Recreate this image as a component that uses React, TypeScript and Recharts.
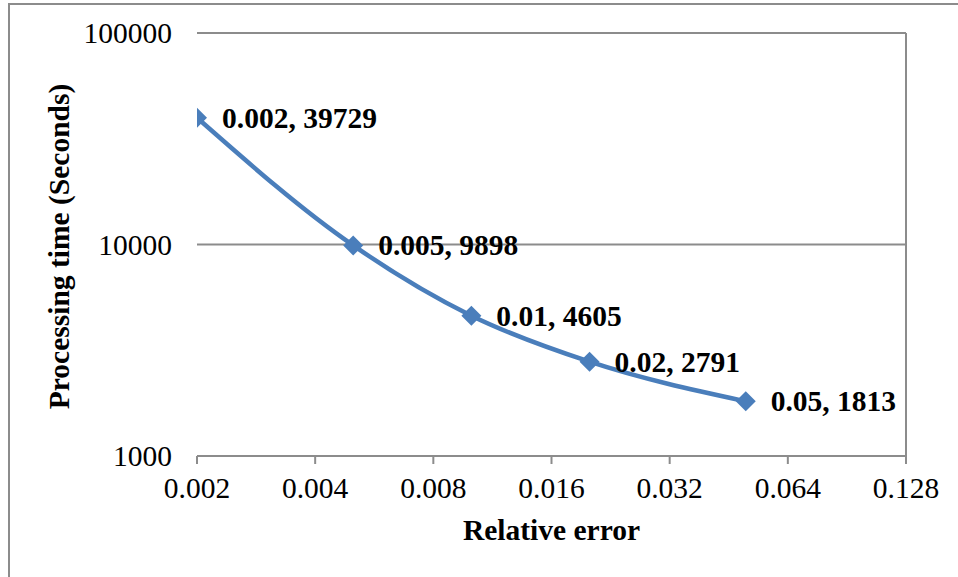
import { LineChart, Line, XAxis, YAxis, CartesianGrid, ReferenceLine, LabelList, Label } from 'recharts'

const relErrors = [0.002, 0.005, 0.01, 0.02, 0.05]
const seconds = [39729, 9898, 4605, 2791, 1813]
const xTicks = [0.002, 0.004, 0.008, 0.016, 0.032, 0.064, 0.128]
const yTicks = [1000, 10000, 100000]

const data = relErrors.map((x, i) => ({ x, y: seconds[i] }))

const FONT = '"Liberation Serif", "Times New Roman", serif'
const FS = 29.5
const GRAY = '#8c8c8c'
const BLUE = '#4a7ebb'

// eslint-disable-next-line @typescript-eslint/no-explicit-any
const Diamond = ({ cx, cy }: any) => {
  if (cx == null || cy == null) return null
  const r = 10
  return (
    <polygon
      points={`${cx},${cy - r} ${cx + r},${cy} ${cx},${cy + r} ${cx - r},${cy}`}
      fill={BLUE}
    />
  )
}

// eslint-disable-next-line @typescript-eslint/no-explicit-any
const PointLabel = ({ x, y, index }: any) => (
  <text
    x={x + 25}
    y={y + 10}
    fontFamily={FONT}
    fontSize={FS}
    fontWeight="bold"
    fill="#000"
  >
    {`${relErrors[index]}, ${seconds[index]}`}
  </text>
)

// eslint-disable-next-line @typescript-eslint/no-explicit-any
const YTitle = ({ viewBox }: any) => {
  const cx = 59
  const cy = viewBox.y + viewBox.height / 2 + 2
  return (
    <text
      x={cx}
      y={cy}
      transform={`rotate(-90, ${cx}, ${cy})`}
      textAnchor="middle"
      dominantBaseline="central"
      fontFamily={FONT}
      fontSize={FS}
      fontWeight="bold"
      fill="#000"
    >
      Processing time (Seconds)
    </text>
  )
}

// eslint-disable-next-line @typescript-eslint/no-explicit-any
const XTitle = ({ viewBox }: any) => (
  <text
    x={viewBox.x + viewBox.width / 2}
    y={540}
    textAnchor="middle"
    fontFamily={FONT}
    fontSize={FS}
    fontWeight="bold"
    fill="#000"
  >
    Relative error
  </text>
)

export default function App() {
  return (
    <div style={{ position: 'absolute', left: 0, top: 0, width: 958, height: 577, overflow: 'hidden', background: '#fff' }}>
      <div
        style={{
          position: 'absolute', left: 8, top: 3, width: 1000, height: 700,
          borderTop: `2px solid ${GRAY}`, borderLeft: `2px solid ${GRAY}`,
        }}
      />
      <div style={{ position: 'absolute', left: 0, top: 0 }}>
        <LineChart width={958} height={577} data={data} margin={{ top: 33, right: 52, left: 0, bottom: 0 }}>
          <CartesianGrid vertical={false} stroke={GRAY} strokeWidth={2} />
          <XAxis
            dataKey="x"
            type="number"
            scale="log"
            domain={[0.002, 0.128]}
            ticks={xTicks}
            allowDataOverflow
            height={121}
            tickSize={8}
            tickMargin={13}
            axisLine={{ stroke: GRAY, strokeWidth: 2 }}
            tickLine={{ stroke: GRAY, strokeWidth: 2 }}
            tick={{ fontFamily: FONT, fontSize: FS, fill: '#000' }}
          >
            <Label content={<XTitle />} />
          </XAxis>
          <YAxis
            type="number"
            scale="log"
            domain={[1000, 100000]}
            ticks={yTicks}
            allowDataOverflow
            width={197}
            axisLine={false}
            tickLine={false}
            tickSize={0}
            tickMargin={25}
            tick={{ fontFamily: FONT, fontSize: FS, fill: '#000' }}
          >
            <Label content={<YTitle />} />
          </YAxis>
          <ReferenceLine x={0.128} stroke={GRAY} strokeWidth={2} />
          <Line
            dataKey="y"
            type="monotone"
            stroke={BLUE}
            strokeWidth={4.5}
            dot={<Diamond />}
            activeDot={false}
            isAnimationActive={false}
          >
            <LabelList dataKey="y" content={<PointLabel />} />
          </Line>
        </LineChart>
      </div>
    </div>
  )
}
